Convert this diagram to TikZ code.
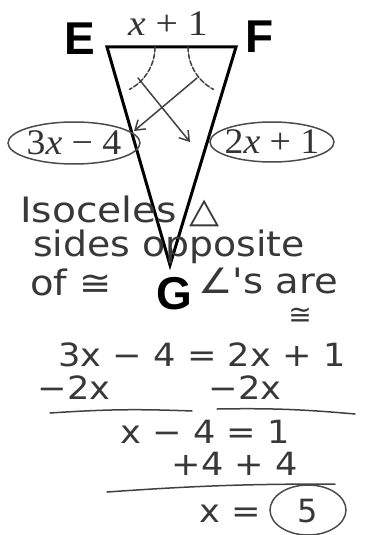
\documentclass[tikz,border=0pt]{standalone}
\usepackage{fontspec}
\setmainfont{DejaVu Sans}
\newfontfamily\hand{DejaVu Sans}
\newfontfamily\lbl{Liberation Sans}
\newfontfamily\ser{Liberation Serif}
\usetikzlibrary{arrows.meta,shapes.geometric}
\tikzset{
  pen/.style={draw=black!75, line width=1.5pt, line cap=round, line join=round},
  thick pen/.style={draw=black, line width=3pt, line cap=round},
  vlabel/.style={font=\lbl\bfseries\fontsize{46}{46}\selectfont, inner sep=0pt},
  hw/.style={font=\hand\fontsize{35}{35}\selectfont, text=black!78, inner sep=0pt},
  eq/.style={font=\hand\fontsize{32}{32}\selectfont, text=black!78, inner sep=0pt},
  mathlbl/.style={font=\ser\fontsize{36}{36}\selectfont, text=black!80, inner sep=0pt},
  oval/.style={ellipse, draw=black!70, line width=1.5pt, inner sep=0pt},
  arr/.style={pen, -{Straight Barb[length=9pt,width=12pt]}},
}
\begin{document}
\begin{tikzpicture}[x=1pt,y=-1pt]
\useasboundingbox (0,0) rectangle (371,535);
% vertices
\coordinate (E) at (107,47);
\coordinate (F) at (236,47);
\coordinate (G) at (170,265);
\draw[thick pen] (E) -- (F) -- (G) -- cycle;
% vertex labels
\node[vlabel] (lE) at (80,39) {E};
\node[vlabel] (lF) at (260,37) {F};
\node[vlabel] (lG) at (174,294) {G};
% top side label
\node[mathlbl] (top) at (168,24) {\scalebox{1.1}[1]{\textit{x} + 1}};
% angle arcs
\draw[pen, dashed, dash pattern=on 5pt off 2pt] ([shift={(0:48pt)}]E) arc[start angle=0, end angle=-62, radius=48pt];
\draw[pen, dashed, dash pattern=on 5pt off 2pt] ([shift={(180:48pt)}]F) arc[start angle=180, end angle=242, radius=48pt];
% arrows
\coordinate (a1s) at (138,78);
\coordinate (a1e) at (190,142);
\coordinate (a2s) at (197,78);
\coordinate (a2e) at (134,131);
\draw[arr] (a1s) -- (a1e);
\draw[arr] (a2s) -- (a2e);
% side labels with ovals
\node[oval, minimum width=132pt, minimum height=42pt] (oL) at (74,143) {};
\node[mathlbl] (tL) at (oL) {\scalebox{1.05}[1]{3\textit{x} − 4}};
\node[oval, minimum width=124pt, minimum height=40pt] (oR) at (272,142) {};
\node[mathlbl] (tR) at (oR) {\scalebox{1.05}[1]{2\textit{x} + 1}};
% notes
\node[hw, anchor=west] (n1) at (20,211) {\scalebox{1.12}[1]{Isoceles △}};
\node[hw, anchor=west] (n2) at (33,247) {\scalebox{1.08}[1]{sides opposite}};
\node[hw, anchor=west] (n3) at (30,282) {\scalebox{1.1}[1]{of ≅}};
\node[hw, anchor=west] (n4) at (198,281) {\scalebox{1.1}[1]{∠'s are}};
\node[hw, font=\hand\fontsize{28}{28}\selectfont] (n5) at (300,316) {≅};
% equations
\node[eq] (e1) at (202,355) {\scalebox{1.1}[1]{3x − 4 = 2x + 1}};
\node[eq] (e2a) at (74,388) {\scalebox{1.1}[1]{−2x}};
\node[eq] (e2b) at (245,388) {\scalebox{1.1}[1]{−2x}};
\coordinate (u1a) at (50,413); \coordinate (u1b) at (192,411);
\coordinate (u2a) at (217,409); \coordinate (u2b) at (355,414);
\draw[pen] (u1a) to[bend left=3] (u1b);
\draw[pen] (u2a) to[bend left=3] (u2b);
\node[eq] (e3) at (205,432) {\scalebox{1.1}[1]{x − 4 = 1}};
\node[eq] (e4) at (235,464) {\scalebox{1.1}[1]{+4 + 4}};
\coordinate (u3a) at (107,492); \coordinate (u3b) at (335,484);
\draw[pen] (u3a) to[bend left=2] (u3b);
\node[eq] (e5) at (230,514) {\scalebox{1.1}[1]{x =}};
\node[eq] (e6) at (308,511) {5};
\node[oval, minimum width=76pt, minimum height=50pt] (c5) at (308,510) {};
\end{tikzpicture}
\end{document}
